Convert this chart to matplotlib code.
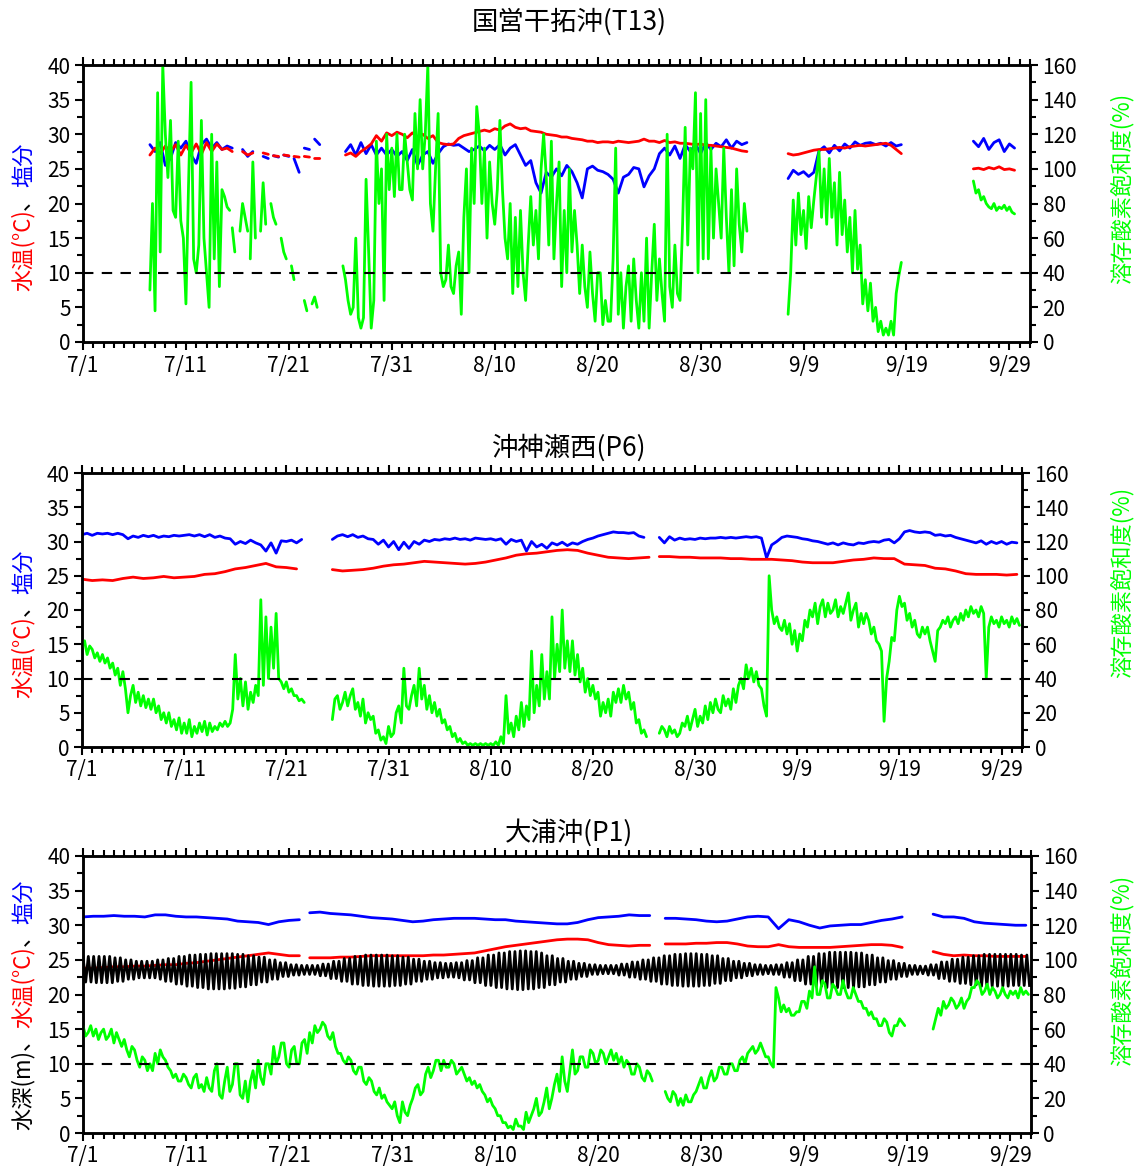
import numpy as np
import matplotlib
matplotlib.use("Agg")
import matplotlib.pyplot as plt
from matplotlib.ticker import MultipleLocator, FixedLocator

plt.rcParams['font.family'] = ['Noto Sans CJK JP', 'DejaVu Sans']

# x軸: 7/1 を 0 日目とした経過日数
date_ticks = [0, 10, 20, 30, 40, 50, 60, 70, 80, 90]
date_labels = ['7/1', '7/11', '7/21', '7/31', '8/10', '8/20', '8/30', '9/9', '9/19', '9/29']

titles = ['国営干拓沖(T13)', '沖神瀬西(P6)', '大浦沖(P1)']

# ---- 国営干拓沖(T13) ----  (開始日, 値) の区間ごと
p1_temp = [
    (6.5, [27.0, 28.0, 27.2, 28.3, 27.5, 28.5, 27.0, 28.4, 27.3, 28.6, 27.1, 28.8, 27.5, 28.6, 27.8, 28.0, 27.5]),
    (15.5, [27.5, 27.0, 27.3]),
    (17.5, [27.3, 27.1]),
    (18.5, [26.9, 26.8]),
    (19.5, [27.0, 26.9]),
    (20.5, [26.8, 26.7]),
    (21.5, [26.8, 26.7]),
    (22.5, [26.5, 26.5]),
    (25.5, [27.0, 27.3, 26.8, 27.5, 28.0, 28.6, 29.8, 29.0, 30.2, 29.8, 30.3,
            30.0, 29.5, 30.2, 29.6, 30.0, 29.4, 29.8, 28.8, 28.6, 28.5,
            28.6, 29.4, 29.8, 30.0, 30.2, 30.4, 30.6, 30.4, 30.8, 30.6,
            31.2, 31.5, 31.0, 30.8, 30.9, 30.5, 30.4, 30.3, 30.0, 29.9,
            29.8, 29.6, 29.6, 29.4, 29.3, 29.2, 29.0, 29.0, 28.8, 28.9,
            28.9, 28.8, 29.0, 28.9, 28.8, 28.9, 29.0, 29.3, 29.0, 29.0,
            28.8, 29.1, 28.8, 28.9, 28.7, 28.7, 28.6, 28.5, 28.6, 28.4,
            28.4, 28.3, 28.2, 28.1, 28.0, 27.8, 27.6, 27.5]),
    (68.5, [27.2, 27.0, 27.1, 27.3, 27.5, 27.7, 27.8, 27.8, 27.9, 28.0, 28.1, 28.0,
            28.2, 28.3, 28.4, 28.3, 28.4, 28.5, 28.6, 28.7, 28.4, 27.8, 27.2]),
    (86.5, [25.0, 25.1, 24.9, 25.2, 25.0, 25.3, 24.9, 25.0, 24.8]),
]
p1_sal = [
    (6.5, [28.5, 27.5, 28.8, 25.5, 26.5, 28.8, 28.0, 29.0, 27.0, 25.8, 28.5, 29.3, 28.0, 28.8, 27.8, 28.3, 28.0]),
    (15.5, [27.8, 26.8, 27.5]),
    (17.5, [26.8, 26.5]),
    (18.5, [26.9, 26.7]),
    (19.5, [27.0, 26.8]),
    (20.5, [26.5, 24.5]),
    (21.5, [28.0, 27.8]),
    (22.5, [29.3, 28.5]),
    (25.5, [27.5, 28.5, 27.0, 28.8, 27.2, 28.5, 27.0, 28.0, 27.0, 27.8, 26.8,
            27.5, 26.2, 27.8, 25.5, 27.0, 27.5, 25.8, 27.2, 28.2, 28.6,
            28.4, 28.5, 28.0, 27.5, 27.8, 28.3, 27.6, 28.4, 27.8, 28.5,
            27.0, 28.0, 28.5, 27.0, 25.5, 26.2, 23.0, 21.5, 24.5, 23.8,
            25.0, 24.0, 25.5, 24.6, 23.0, 20.8, 25.0, 25.4, 24.8, 24.6,
            24.2, 23.5, 21.5, 23.8, 24.2, 25.2, 25.0, 22.4, 24.0, 25.0,
            27.2, 28.0, 27.0, 28.3, 26.5, 28.5, 27.5, 28.6, 27.2, 28.8,
            27.8, 28.7, 28.2, 29.2, 28.0, 29.0, 28.5, 28.8]),
    (68.5, [23.6, 24.8, 24.2, 24.6, 23.9, 24.5, 27.6, 28.2, 27.3, 28.4, 27.6, 28.6,
            28.0, 28.9, 28.4, 28.7, 28.8, 28.5, 28.7, 28.3, 28.8, 28.3, 28.5]),
    (86.5, [29.0, 28.2, 29.4, 27.8, 28.8, 29.2, 27.5, 28.6, 28.0]),
]
p1_do = [
    (6.5, [30, 80, 18, 144, 52, 160, 120, 95, 128, 76, 72, 116, 70, 60, 22, 90,
           150, 48, 40, 56, 128, 60, 40, 20, 120, 48, 104, 32, 88, 84, 78, 76]),
    (14.5, [66, 52]),
    (15.25, [64, 80, 72, 64]),
    (16.25, [48, 104, 60]),
    (17.25, [64, 92, 68]),
    (18.25, [80, 72, 68]),
    (19.25, [60, 52, 48]),
    (20.25, [44, 36]),
    (21.5, [24, 18]),
    (22.25, [22, 26, 20]),
    (25.25, [44, 36, 24, 16, 20, 60, 14, 8, 14, 94, 52, 8, 24, 116, 80, 100, 24, 120, 88, 112, 84, 120, 88,
             88, 120, 104, 88, 82, 132, 100, 140, 100, 120, 160, 80, 64, 100, 132, 40,
             32, 36, 56, 32, 28, 44, 52, 16, 72, 100, 40, 112, 80, 136, 120, 80, 112, 60, 104, 80,
             68, 88, 128, 88, 60, 48, 80, 28, 72, 32, 76, 40, 24, 56, 84, 56, 76, 48, 100, 120,
             96, 56, 116, 48, 80, 104, 32, 76, 40, 100, 52, 76, 56, 28, 56, 32, 20, 52, 28, 12,
             40, 40, 10, 24, 12, 12, 48, 112, 16, 40, 8, 32, 44, 12, 48, 24, 8, 40, 12, 60,
             8, 40, 68, 24, 48, 28, 12, 120, 32, 20, 56, 28, 24, 68, 124, 56, 112, 100, 144, 40,
             132, 48, 140, 48, 112, 60, 100, 80, 60, 112, 72, 40, 88, 44, 100, 68, 52, 80, 64]),
    (68.5, [16, 40, 82, 56, 86, 62, 76, 54, 84, 66, 82, 96, 110, 72, 100, 68, 106, 72, 92, 56,
            98, 62, 82, 52, 72, 40, 76, 42, 56, 22, 36, 18, 34, 12, 20, 6, 12, 4, 8, 4,
            12, 4, 28, 38, 46]),
    (86.5, [93, 86, 88, 82, 84, 80, 78, 77, 80, 76, 78, 77, 79, 76, 78, 75, 74]),
]

# ---- 沖神瀬西(P6) ----
p2_temp = [
    (0, [24.5, 24.3, 24.4, 24.3, 24.6, 24.8, 24.6, 24.7, 24.9, 24.7, 24.8, 24.9, 25.2, 25.3,
         25.6, 26.0, 26.2, 26.5, 26.8, 26.3, 26.2, 26.0]),
    (24.5, [25.9, 25.7, 25.8, 25.9, 26.1, 26.4, 26.6, 26.7, 26.9, 27.1, 27.0, 26.9, 26.8, 26.7,
            26.8, 27.0, 27.3, 27.6, 28.0, 28.2, 28.3, 28.5, 28.7, 28.8, 28.7, 28.3, 28.0, 27.7,
            27.6, 27.5, 27.6, 27.7]),
    (56.5, [27.8, 27.8, 27.7, 27.7, 27.6, 27.6, 27.6, 27.5, 27.5, 27.4, 27.4, 27.4, 27.3, 27.2,
            27.0, 26.9, 26.9, 26.9, 27.1, 27.3, 27.4, 27.6, 27.5, 27.5, 26.7, 26.6, 26.5, 26.1,
            26.0, 25.7, 25.3, 25.2, 25.2, 25.2, 25.1, 25.2]),
]
p2_sal = [
    (0, [31.0, 31.2, 30.9, 31.2, 31.1, 31.2, 31.0, 31.2, 31.0, 30.4,
         30.8, 30.6, 30.9, 30.7, 30.9, 30.6, 30.8, 30.7, 30.9, 30.8,
         30.9, 31.0, 30.8, 31.0, 30.7, 31.0, 30.6, 30.8, 30.5, 30.4,
         29.6, 30.0, 29.7, 30.2, 29.8, 29.5, 28.6, 29.8, 28.3, 30.1,
         30.0, 30.2, 29.8, 30.3]),
    (24.5, [30.3, 30.8, 31.0, 30.7, 31.0, 30.6, 30.8, 30.4, 30.3, 29.6,
            30.2, 29.2, 30.0, 28.8, 29.9, 29.0, 30.0, 29.6, 30.2, 30.0,
            30.3, 30.2, 30.4, 30.3, 30.5, 30.3, 30.4, 30.2, 30.5, 30.4,
            30.3, 30.4, 30.2, 30.4, 29.6, 30.3, 30.0, 30.2, 28.6, 30.0,
            29.2, 29.6, 29.0, 29.8, 29.5, 29.9, 29.4, 29.8, 29.6, 30.0,
            30.3, 30.5, 30.8, 31.0, 31.2, 31.4, 31.3, 31.3, 31.2, 31.3,
            30.8, 30.6]),
    (56.5, [30.6, 29.8, 30.7, 30.2, 30.5, 30.3, 30.4, 30.3, 30.5, 30.4,
            30.5, 30.5, 30.6, 30.5, 30.6, 30.5, 30.6, 30.7, 30.6, 30.7,
            30.5, 27.6, 29.5, 30.0, 30.6, 30.8, 30.7, 30.6, 30.4, 30.3,
            30.1, 30.0, 29.8, 29.6, 29.8, 29.5, 29.8, 29.6, 29.5, 29.8,
            29.7, 29.9, 30.0, 29.9, 30.2, 30.3, 29.8, 30.4, 31.4, 31.6,
            31.4, 31.3, 31.4, 31.3, 30.9, 31.0, 30.8, 30.9, 30.6, 30.4,
            30.2, 30.0, 29.8, 30.1, 29.6, 30.0, 29.7, 30.0, 29.6, 29.9,
            29.8]),
]
p2_do = [
    (0, [58, 62, 54, 59, 57, 52, 55, 50,
         54, 49, 52, 46, 49, 42, 46, 36,
         44, 34, 20, 30, 36, 26, 32, 24,
         30, 23, 28, 22, 28, 20, 24, 16,
         20, 14, 20, 12, 16, 10, 17, 8,
         14, 8, 16, 6, 12, 8, 14, 9,
         15, 7, 14, 9, 12, 10, 14, 12,
         15, 12, 14, 22, 54, 28, 40, 24,
         38, 22, 32, 26, 36, 30, 86, 36,
         76, 40, 70, 46, 78, 40, 38, 34,
         38, 32, 34, 30, 30, 27, 28, 26]),
    (24.5, [16, 28, 30, 22, 26, 32, 24, 30,
            34, 22, 26, 18, 28, 14, 20, 16,
            18, 8, 10, 4, 6, 2, 12, 6,
            8, 20, 24, 14, 46, 24, 22, 30,
            36, 24, 46, 28, 36, 22, 30, 20,
            26, 18, 22, 14, 16, 10, 12, 6,
            8, 3, 5, 2, 3, 1, 2, 1,
            2, 1, 2, 1, 2, 1, 2, 1,
            3, 1, 6, 2, 30, 8, 14, 6,
            18, 10, 26, 12, 24, 16, 56, 20,
            36, 24, 54, 28, 44, 28, 76, 40,
            60, 44, 80, 46, 62, 44, 62, 42,
            54, 38, 46, 32, 40, 30, 36, 28,
            32, 18, 26, 20, 28, 18, 32, 26,
            34, 26, 36, 28, 32, 22, 26, 14,
            16, 8, 10, 6]),
    (56.5, [8, 12, 10, 6, 12, 8, 10, 6,
            8, 14, 12, 18, 10, 16, 22, 12,
            18, 14, 24, 16, 26, 20, 28, 22,
            20, 30, 24, 28, 22, 34, 26, 36,
            40, 34, 48, 40, 46, 38, 44, 36,
            34, 24, 18, 100, 80, 72, 76, 70,
            68, 74, 66, 72, 60, 68, 56, 66,
            62, 74, 70, 80, 76, 84, 72, 82,
            86, 76, 84, 78, 80, 86, 76, 82,
            78, 84, 90, 74, 80, 84, 70, 78,
            72, 78, 74, 66, 70, 62, 60, 56,
            15, 40, 50, 64, 62, 80, 88, 82,
            84, 74, 78, 70, 74, 66, 64, 70,
            66, 70, 62, 56, 50, 68, 70, 74,
            72, 76, 70, 74, 76, 72, 78, 74,
            80, 76, 82, 78, 80, 76, 82, 78,
            40, 70, 76, 72, 74, 70, 76, 72,
            74, 70, 76, 72, 75, 71]),
]

# ---- 大浦沖(P1) ----
p3_temp = [
    (0, [23.8, 23.8, 23.9, 24.0, 24.0, 24.1, 24.1, 24.2, 24.3, 24.3, 24.5, 24.6, 24.8, 25.0,
         25.2, 25.4, 25.6, 25.8, 26.0, 25.8, 25.6, 25.6]),
    (22, [25.3, 25.3, 25.3, 25.4, 25.4, 25.5, 25.6, 25.6, 25.6, 25.6, 25.6, 25.6, 25.7, 25.7,
          25.8, 25.9, 26.0, 26.3, 26.6, 26.9, 27.1, 27.3, 27.5, 27.7, 27.9, 28.0, 28.0, 27.9,
          27.5, 27.2, 27.1, 27.0, 27.1, 27.1]),
    (56.5, [27.3, 27.3, 27.3, 27.4, 27.4, 27.5, 27.5, 27.3, 27.0, 26.9, 26.9, 27.2, 26.9, 26.8,
            26.8, 26.8, 26.8, 26.9, 27.0, 27.1, 27.2, 27.2, 27.1, 26.8]),
    (82.5, [26.2, 25.8, 25.6, 25.7, 25.6, 25.6, 25.5, 25.5, 25.5, 25.5]),
]
p3_sal = [
    (0, [31.2, 31.3, 31.3, 31.4, 31.3, 31.3, 31.2, 31.5, 31.5, 31.3, 31.2, 31.2, 31.1, 31.0,
         30.9, 30.6, 30.5, 30.4, 30.1, 30.5, 30.7, 30.8]),
    (22, [31.8, 31.9, 31.7, 31.6, 31.5, 31.3, 31.1, 31.0, 30.9, 30.7, 30.5, 30.6, 30.8, 30.9,
          31.0, 31.0, 31.0, 30.9, 30.8, 30.8, 30.6, 30.5, 30.4, 30.3, 30.2, 30.2, 30.4, 30.8,
          31.1, 31.2, 31.3, 31.5, 31.4, 31.4]),
    (56.5, [31.0, 31.0, 30.9, 30.8, 30.6, 30.5, 30.6, 30.9, 31.2, 31.3, 31.2, 29.5, 30.8, 30.5,
            30.0, 29.6, 29.9, 30.0, 30.1, 30.1, 30.4, 30.7, 30.9, 31.2]),
    (82.5, [31.6, 31.2, 31.2, 31.0, 30.5, 30.3, 30.2, 30.1, 30.0, 30.0]),
]
p3_do = [
    (0, [62, 56, 58, 62, 56, 60, 54, 58,
         60, 54, 56, 60, 52, 58, 54, 50,
         54, 48, 44, 50, 48, 42, 38, 44,
         42, 36, 40, 36, 46, 40, 48, 44,
         42, 38, 36, 32, 34, 30, 30, 34,
         32, 28, 26, 32, 34, 26, 28, 24,
         32, 26, 24, 36, 40, 22, 20, 30,
         38, 24, 28, 40, 40, 22, 20, 30,
         18, 30, 36, 26, 42, 32, 28, 40,
         40, 34, 50, 40, 44, 52, 52, 40,
         38, 48, 50, 40, 40, 52, 54, 46,
         58, 52, 62, 58, 60, 64, 62, 56,
         54, 58, 50, 46, 46, 42, 40, 44,
         42, 36, 34, 38, 38, 30, 28, 32,
         30, 24, 22, 26, 20, 22, 18, 16,
         14, 18, 10, 6, 18, 12, 10, 16,
         20, 26, 28, 22, 24, 34, 38, 32,
         36, 42, 42, 36, 42, 38, 38, 42,
         40, 34, 36, 38, 34, 30, 32, 28,
         30, 26, 28, 24, 22, 18, 20, 16,
         14, 10, 10, 6, 6, 3, 4, 2,
         8, 4, 4, 2, 12, 6, 10, 14,
         20, 10, 12, 18, 26, 14, 20, 28,
         34, 24, 44, 30, 24, 36, 48, 34,
         36, 44, 44, 38, 38, 48, 46, 40,
         42, 48, 46, 40, 44, 48, 42, 46,
         40, 44, 38, 42, 40, 34, 34, 40,
         38, 32, 30, 36, 34, 30]),
    (56.5, [24, 20, 18, 24, 22, 16, 20, 16,
            22, 18, 18, 22, 24, 28, 32, 26,
            26, 32, 36, 30, 32, 38, 38, 34,
            34, 40, 40, 36, 36, 42, 44, 40,
            46, 48, 50, 46, 48, 52, 48, 44,
            44, 40, 38, 84, 78, 70, 74, 70,
            72, 68, 68, 70, 70, 76, 76, 72,
            82, 78, 96, 80, 80, 88, 86, 78,
            78, 86, 84, 80, 80, 88, 82, 78,
            78, 84, 80, 76, 76, 72, 72, 68,
            70, 66, 66, 62, 62, 66, 64, 58,
            56, 62, 62, 66, 64, 62]),
    (82.5, [60, 66, 72, 68, 76, 72, 74, 78,
            76, 72, 74, 78, 72, 76, 78, 84,
            84, 88, 86, 80, 82, 86, 80, 84,
            82, 78, 80, 84, 80, 78, 82, 80,
            82, 78, 84, 80, 82, 80]),
]
# 水深: 日ごとの満潮・干潮の高さ (7/1〜10/2)
tide_high = [25.5, 25.5, 25.5, 25.3, 25.0, 24.8, 24.8, 25.0, 25.2, 25.5,
             25.7, 25.8, 25.9, 25.9, 25.9, 25.8, 25.6, 25.4, 25.0, 24.6,
             24.3, 24.2, 24.2, 24.4, 24.8, 25.2, 25.5, 25.7, 25.7, 25.7,
             25.6, 25.4, 25.1, 24.8, 24.6, 24.5, 24.6, 24.9, 25.3, 25.7,
             26.0, 26.2, 26.3, 26.2, 26.0, 25.6, 25.2, 24.8, 24.5, 24.3,
             24.2, 24.2, 24.4, 24.7, 25.0, 25.3, 25.6, 25.8, 25.9, 25.9,
             25.8, 25.6, 25.2, 24.8, 24.5, 24.3, 24.2, 24.3, 24.6, 25.0,
             25.5, 25.9, 26.1, 26.1, 26.1, 26.0, 25.7, 25.3, 24.9, 24.5,
             24.2, 24.1, 24.3, 24.7, 25.1, 25.4, 25.6, 25.8, 25.8, 25.8,
             25.8, 25.7, 25.6]
tide_low = [21.8, 21.7, 21.7, 21.9, 22.2, 22.4, 22.4, 22.2, 21.9, 21.5,
            21.2, 21.0, 20.8, 20.8, 20.9, 21.1, 21.4, 21.8, 22.2, 22.6,
            22.8, 22.9, 22.9, 22.7, 22.3, 21.9, 21.5, 21.3, 21.2, 21.2,
            21.3, 21.5, 21.9, 22.2, 22.4, 22.5, 22.4, 22.1, 21.7, 21.3,
            21.0, 20.8, 20.7, 20.8, 21.0, 21.4, 21.8, 22.2, 22.6, 22.9,
            23.0, 23.0, 22.8, 22.5, 22.2, 21.9, 21.5, 21.3, 21.2, 21.2,
            21.3, 21.6, 22.0, 22.4, 22.7, 22.9, 23.0, 22.9, 22.5, 22.0,
            21.5, 21.2, 21.0, 21.0, 21.0, 21.1, 21.4, 21.8, 22.2, 22.6,
            22.9, 23.0, 22.8, 22.3, 21.9, 21.6, 21.4, 21.2, 21.2, 21.2,
            21.3, 21.3, 21.4]

W, H = 1138, 1173
RED, BLUE, GREEN = '#ff0000', '#0000ff', '#00ff00'


def seg_xy(segments, step):
    xs, ys = [], []
    for start, vals in segments:
        for i, v in enumerate(vals):
            xs.append(start + i * step)
            ys.append(v)
        xs.append(np.nan)
        ys.append(np.nan)
    return xs, ys


def box(l, t, r, b):
    return [l / W, 1 - b / H, (r - l) / W, (b - t) / H]


def vlabel(fig, x_px, yc_px, parts, size):
    # 色分けした縦書きラベルを下から積む
    renderer = fig.canvas.get_renderer()
    texts = [fig.text(0, 0, s, color=c, fontsize=size, rotation=90,
                      rotation_mode='anchor', ha='left', va='baseline') for s, c in parts]
    lengths = [t.get_window_extent(renderer).height for t in texts]
    y = (H - yc_px) - sum(lengths) / 2
    for t, L in zip(texts, lengths):
        t.set_position((x_px / W, y / H))
        y += L


def setup(ax, ax2):
    ax.set_xlim(0, 92)
    ax.set_ylim(0, 40)
    ax2.set_ylim(0, 160)
    ax.xaxis.set_major_locator(FixedLocator(date_ticks))
    ax.set_xticklabels(date_labels)
    ax.xaxis.set_minor_locator(MultipleLocator(1))
    ax.yaxis.set_major_locator(MultipleLocator(5))
    ax.yaxis.set_minor_locator(MultipleLocator(2.5))
    ax2.yaxis.set_major_locator(MultipleLocator(20))
    ax2.yaxis.set_minor_locator(MultipleLocator(10))
    for a in (ax, ax2):
        for sp in a.spines.values():
            sp.set_linewidth(1.8)
        a.tick_params(which='major', direction='out', length=6, width=1.5, labelsize=15)
        a.tick_params(which='minor', direction='out', length=4, width=1.5)
    ax.tick_params(axis='x', which='both', top=True, bottom=True, labeltop=False, pad=3)
    ax.tick_params(axis='y', which='both', right=False, pad=3)
    ax2.tick_params(axis='y', which='both', right=True, pad=3)


fig = plt.figure(figsize=(W / 100, H / 100), dpi=100)

rects = [box(83, 65, 1030, 342), box(82, 473, 1022, 747), box(83, 856, 1031, 1133)]
title_y = [22, 448, 833]
left_yc = [217, 624, 1005]
right_yc = [188, 582, 970]
temps = [(p1_temp, 0.5), (p2_temp, 1.0), (p3_temp, 1.0)]
sals = [(p1_sal, 0.5), (p2_sal, 0.5), (p3_sal, 1.0)]
dos = [(p1_do, 0.25), (p2_do, 0.25), (p3_do, 0.25)]

for i in range(3):
    ax = fig.add_axes(rects[i])
    ax2 = ax.twinx()
    setup(ax, ax2)

    x, y = seg_xy(*sals[i])
    ax.plot(x, y, color=BLUE, lw=2.0, solid_capstyle='round')
    x, y = seg_xy(*temps[i])
    ax.plot(x, y, color=RED, lw=2.0, solid_capstyle='round')

    if i == 2:
        # 満潮・干潮を半日周潮の間隔で交互に結ぶ
        half = 12.42 / 48.0
        n = int(92 / half)
        tx = [k * half for k in range(n + 1)]
        ty = [tide_high[int(t)] if k % 2 == 0 else tide_low[int(t)] for k, t in enumerate(tx)]
        ax.plot(tx, ty, color='black', lw=2.0)

    x, y = seg_xy(*dos[i])
    ax2.plot(x, y, color=GREEN, lw=2.0, solid_capstyle='round')
    ax2.axhline(40, color='black', lw=1.5, dashes=(5, 4), zorder=5)

    fig.text(0.5, 1 - title_y[i] / H, titles[i], ha='center', va='center', fontsize=19)
    fig.text(1122 / W, 1 - right_yc[i] / H, '溶存酸素飽和度(%)', color=GREEN, fontsize=16,
             rotation=90, ha='center', va='center')

fig.canvas.draw()
vlabel(fig, 30, left_yc[0], [('水温(°C)', RED), ('、', 'black'), ('塩分', BLUE)], 16)
vlabel(fig, 30, left_yc[1], [('水温(°C)', RED), ('、', 'black'), ('塩分', BLUE)], 16)
vlabel(fig, 30, left_yc[2], [('水深(m)', 'black'), ('、', 'black'), ('水温(°C)', RED),
                             ('、', 'black'), ('塩分', BLUE)], 16)

fig.savefig('out.png', dpi=100)
